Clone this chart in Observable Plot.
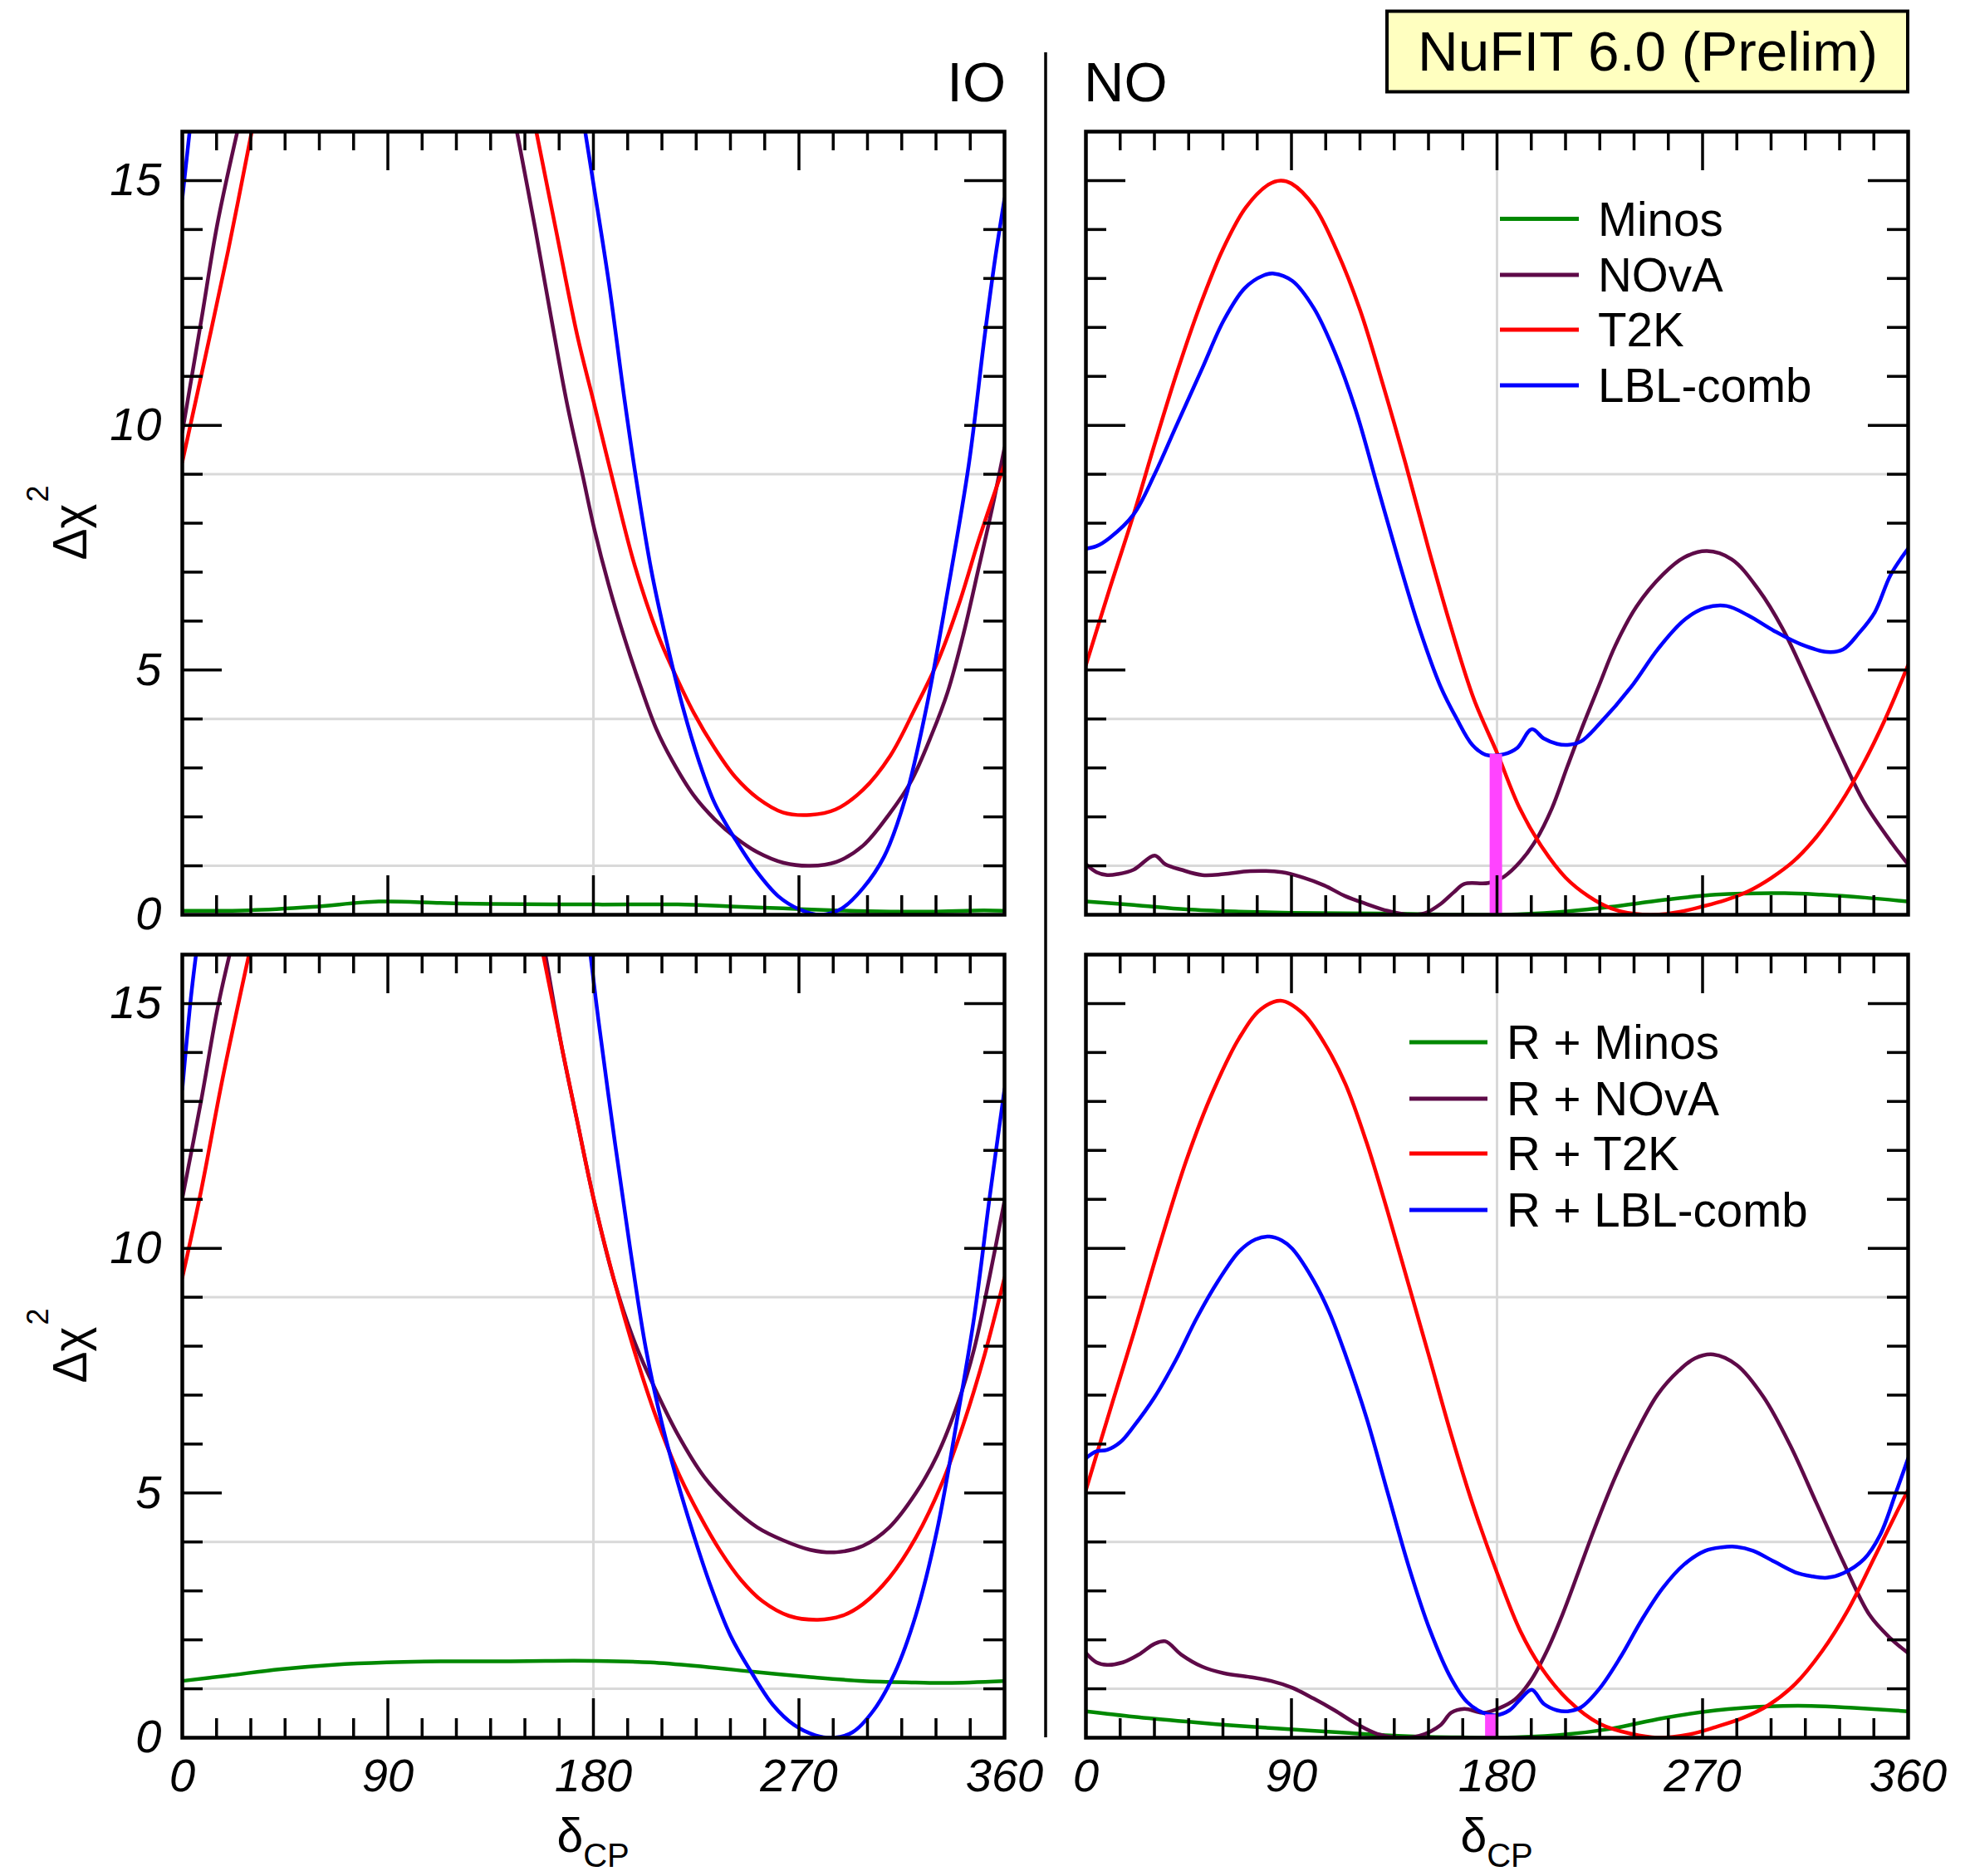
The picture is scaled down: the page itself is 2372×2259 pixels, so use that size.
<!DOCTYPE html>
<html><head><meta charset="utf-8">
<script src="https://cdn.jsdelivr.net/npm/d3@7"></script>
<script src="https://cdn.jsdelivr.net/npm/@observablehq/plot@0.6"></script>
<style>
html,body{margin:0;padding:0;background:#fff;}
#chart{position:relative;width:2372px;height:2259px;background:#fff;overflow:hidden;}
#chart svg{position:absolute;overflow:visible;}
</style></head><body><div id="chart"></div>
<script>
// ---------- axis / tick values ----------
const degMajor = [0, 90, 180, 270, 360];
const degMajorInner = [90, 180, 270];
const degMinor = [15,30,45,60,75,105,120,135,150,165,195,210,225,240,255,285,300,315,330,345];
const dchiMajor = [0, 5, 10, 15];
const dchiMajorInner = [5, 10, 15];
const dchiMinor = [1,2,3,4,6,7,8,9,11,12,13,14];
const gridDchi = [1, 4, 9];
const gridDeg = [180];

// ---------- series names / colours ----------
const namesTop = ["Minos", "NOvA", "T2K", "LBL-comb"];
const namesBottom = ["R + Minos", "R + NOvA", "R + T2K", "R + LBL-comb"];
const seriesColors = ["#008800", "#5e0a48", "#ff0000", "#0000ff"];
const barColor = "#ff44ff";

// ---------- IO, top row ----------
const ioTopMinos = [[0,0.08],[29,0.09],[57,0.16],[86,0.27],[113,0.24],[136,0.22],[182,0.21],[217,0.21],[240,0.17],[263,0.13],[286,0.09],[310,0.065],[328,0.065],[351,0.09],[360,0.08]];
const ioTopNOvA = [[0,9.86],[8.3,12.14],[15.3,14.1],[24.1,16],[null,null],[146.5,16],[154.6,14.0],[161.3,12.25],[168.2,10.5],[175.2,9.0],[180.3,7.9],[186.8,6.72],[193.7,5.64],[200.7,4.66],[207.6,3.79],[214.6,3.14],[223.9,2.44],[233.1,1.95],[242.4,1.57],[251.7,1.28],[263.3,1.06],[274.9,1.0],[286.4,1.08],[298,1.41],[309.6,2.06],[318.9,2.71],[328.2,3.69],[335.1,4.55],[342.1,5.75],[349,7.15],[354.8,8.35],[360,9.54]];
const ioTopT2K = [[0,9.25],[10,11.38],[20,13.55],[30.4,16],[null,null],[155,16],[164,13.9],[173,11.82],[180,10.5],[189,8.78],[198,7.15],[208,5.75],[215,4.99],[224,4.12],[233,3.41],[242,2.82],[252,2.38],[263,2.09],[275,2.04],[286,2.15],[298,2.55],[310,3.25],[321,4.23],[331,5.2],[340,6.34],[349,7.7],[356,8.67],[360,9.2]];
const ioTopLBL = [[0,14.63],[3.2,16],[null,null],[176.4,16],[180.3,14.85],[186.8,12.9],[193.7,10.5],[198.4,9.0],[205.3,7.05],[212.3,5.53],[219.2,4.23],[226.2,3.14],[233.1,2.28],[242.4,1.52],[251.7,0.87],[260.9,0.38],[270.2,0.11],[279.5,0],[288.8,0.13],[298,0.54],[307.3,1.19],[316.6,2.38],[325.8,4.23],[335.1,6.61],[344.4,9.21],[351.3,11.82],[356,13.44],[360,14.63]];

// ---------- IO, bottom row ----------
const ioBotMinos = [[0,1.16],[20,1.27],[43,1.4],[66,1.49],[89.5,1.54],[113,1.56],[136,1.56],[159,1.57],[180,1.57],[205,1.54],[228.5,1.45],[251.7,1.34],[275,1.24],[298,1.16],[321,1.13],[335,1.12],[360,1.16]];
const ioBotNOvA = [[0,11.02],[8.3,13.03],[15.3,14.87],[20.7,16],[null,null],[159,16],[166.2,14.1],[172.9,12.6],[180.3,10.97],[189.1,9.34],[198.4,8.04],[207.6,7.07],[216.9,6.2],[228.5,5.33],[240.1,4.74],[251.7,4.3],[263.3,4.03],[274.9,3.84],[286.4,3.79],[298,3.92],[309.6,4.3],[321.2,5.0],[330.5,5.77],[339.7,6.85],[346.7,7.94],[353.6,9.45],[360,10.97]];
const ioBotT2K = [[0,9.4],[8.3,11.19],[17.6,13.46],[29.2,16],[null,null],[158,16],[166.2,14.1],[172.9,12.6],[180.3,10.97],[189.1,9.34],[198.4,7.83],[207.6,6.53],[216.9,5.44],[226.2,4.57],[235.5,3.82],[244.7,3.22],[254,2.79],[265.6,2.49],[278.3,2.41],[288.8,2.49],[298,2.73],[309.6,3.27],[321.2,4.09],[332.8,5.22],[342.1,6.42],[351.3,7.83],[360,9.4]];
const ioBotLBL = [[0,13.25],[3.7,15.09],[6.0,16],[null,null],[178.7,16],[182.2,14.66],[189.1,12.27],[196.1,9.99],[203,7.94],[210,6.42],[216.9,5.22],[223.9,4.14],[230.8,3.17],[240.1,2.08],[249.4,1.32],[258.6,0.67],[267.9,0.26],[277.2,0.05],[285.3,0],[293.4,0.11],[302.7,0.56],[311.9,1.32],[321.2,2.51],[330.5,4.25],[339.7,6.63],[346.7,8.59],[353.6,11.08],[360,13.25]];

// ---------- NO, top row ----------
const noTopMinos = [[0,0.27],[21,0.2],[44,0.11],[67,0.065],[90,0.04],[114,0.03],[137,0.02],[160,0.0],[183,0.0],[206,0.05],[229.5,0.16],[252.6,0.3],[275.8,0.41],[306,0.44],[322,0.41],[341,0.35],[360,0.27]];
const noTopNOvA = [[0,1.03],[4.6,0.87],[9.3,0.81],[13.9,0.83],[20.9,0.92],[30.1,1.21],[34.8,1.03],[41.7,0.92],[51,0.81],[60.3,0.83],[71.9,0.89],[85.8,0.87],[95,0.76],[104.3,0.6],[113.6,0.38],[122.9,0.22],[132.1,0.08],[141.4,0],[148.4,0.03],[155.3,0.22],[161.1,0.46],[165.7,0.63],[176.2,0.65],[183.1,0.78],[190.1,1.08],[197,1.52],[204,2.17],[210.9,3.04],[217.9,3.9],[224.8,4.7],[231.8,5.5],[241.1,6.3],[252.6,6.95],[261.9,7.3],[271.9,7.43],[282.8,7.26],[294.4,6.65],[305,5.85],[317.6,4.6],[329.2,3.4],[340.7,2.3],[352.3,1.5],[360,1.03]];
const noTopT2K = [[0,5.1],[10,6.6],[20.9,8.18],[30,9.6],[40,11.1],[50,12.45],[60,13.6],[70,14.45],[80,14.92],[85.3,15.0],[90,14.94],[100,14.47],[110,13.55],[120,12.36],[130,10.84],[140,9.21],[150,7.48],[160,5.85],[170,4.39],[180,3.31],[190,2.17],[200,1.36],[210,0.76],[220,0.38],[230,0.13],[240,0.02],[250,0],[260,0.06],[270,0.17],[280,0.3],[290,0.48],[300,0.75],[310,1.1],[320,1.6],[330,2.25],[340,3.05],[350,4.0],[360,5.1]];
const noTopLBL = [[0,7.48],[4.6,7.53],[10.4,7.7],[20.9,8.18],[30.1,9.0],[39.4,9.97],[51,11.17],[60.3,12.14],[69.5,12.8],[77.7,13.06],[82.3,13.1],[90.4,12.95],[99.7,12.4],[108.9,11.5],[118.2,10.3],[127.5,8.78],[136.8,7.26],[146,5.85],[155.3,4.66],[162.3,4.01],[169.2,3.47],[175,3.27],[183.1,3.28],[188.9,3.41],[195.2,3.79],[200.5,3.6],[206.3,3.49],[210.9,3.47],[216.7,3.54],[224.8,3.9],[238.8,4.66],[250.3,5.42],[261.9,6.02],[271.2,6.27],[280.5,6.31],[289.8,6.12],[301.3,5.8],[312.9,5.53],[324.5,5.37],[331.5,5.42],[338.4,5.75],[345.4,6.18],[352.3,6.94],[360,7.48]];
const noTopBar = [179.5, 3.28];

// ---------- NO, bottom row ----------
const noBotMinos = [[0,0.54],[20.9,0.43],[44,0.33],[67.2,0.24],[90.4,0.17],[113.6,0.1],[136.8,0.04],[159.9,0.01],[180.8,0],[206.3,0.05],[229.5,0.18],[252.6,0.4],[275.8,0.56],[299,0.64],[317.6,0.65],[336.1,0.61],[360,0.54]];
const noBotNOvA = [[0,1.73],[4.6,1.54],[9.3,1.49],[16.2,1.54],[23.2,1.7],[30.1,1.92],[34.8,1.97],[41.7,1.7],[51,1.45],[60.3,1.32],[71.9,1.24],[81.1,1.16],[90.4,1.02],[99.7,0.8],[108.9,0.56],[118.2,0.29],[127.5,0.08],[136.8,0],[146,0.04],[155.3,0.26],[159.9,0.51],[165.7,0.59],[173.9,0.51],[180.8,0.6],[187.8,0.78],[194.7,1.16],[201.7,1.76],[208.6,2.51],[215.6,3.38],[222.5,4.25],[231.8,5.33],[241.1,6.25],[250.3,7.01],[259.6,7.5],[266.6,7.75],[274.7,7.83],[285.1,7.61],[296.7,6.96],[308.3,5.98],[319.9,4.79],[331.5,3.6],[343.1,2.51],[352.3,2.03],[360,1.73]];
const noBotT2K = [[0,5.06],[11.6,6.85],[20.9,8.26],[32.5,10.1],[44,11.8],[55.6,13.2],[67.2,14.3],[76.5,14.88],[85.3,15.06],[95,14.8],[104.3,14.2],[113.6,13.36],[122.9,12.16],[132.1,10.75],[141.4,9.24],[150.7,7.72],[159.9,6.2],[169.2,4.79],[180.8,3.27],[190.1,2.19],[199.4,1.43],[210.9,0.78],[224.8,0.29],[238.8,0.08],[250.3,0],[264.3,0.07],[275.8,0.22],[287.4,0.4],[299,0.67],[310.6,1.1],[322.2,1.76],[333.8,2.62],[345.4,3.7],[354.6,4.57],[360,5.06]];
const noBotLBL = [[0,5.71],[4.6,5.85],[9.3,5.88],[15.1,6.04],[20.9,6.36],[30.1,6.96],[39.4,7.72],[48.7,8.59],[58,9.34],[67.2,9.94],[74.2,10.18],[80.4,10.24],[85.8,10.16],[90.4,9.99],[99.7,9.34],[106.6,8.69],[113.6,7.83],[122.9,6.53],[132.1,5.01],[141.4,3.49],[150.7,2.19],[159.9,1.21],[166.9,0.73],[173.9,0.51],[179.6,0.46],[185.4,0.56],[190.1,0.78],[195.2,0.98],[200.5,0.69],[206.3,0.56],[210.9,0.54],[216.7,0.62],[224.8,1.0],[234.1,1.65],[243.4,2.41],[252.6,3.06],[261.9,3.54],[271.2,3.82],[278.2,3.89],[285.1,3.9],[292.1,3.82],[301.3,3.6],[310.6,3.38],[317.6,3.3],[324.5,3.27],[331.5,3.36],[340.7,3.65],[347.7,4.14],[354.6,5.0],[360,5.71]];
const noBotBar = [177.5, 0.47];

// ---------- layout ----------
const FONT = '"Liberation Sans", Arial, Helvetica, sans-serif';
const chart = document.getElementById("chart");
const W = 990, H = 943, mL = 130, mR = 40, mT = 30, mB = 110;

function panel(series, bar, yLabels, xLabels, frameLeft, frameTop) {
  const tk = {stroke: "black", strokeWidth: 3.5};
  const marks = [
    Plot.ruleY(gridDchi, {y: d => d, stroke: "#d9d9d9", strokeWidth: 3}),
    Plot.ruleX(gridDeg, {x: d => d, stroke: "#d9d9d9", strokeWidth: 3})
  ];
  series.forEach((s, i) => marks.push(
    Plot.line(s, {x: d => d[0], y: d => d[1], stroke: seriesColors[i], strokeWidth: 4.5,
                  curve: "catmull-rom", clip: true, strokeLinejoin: "round"})));
  if (bar) marks.push(Plot.ruleX([bar], {x: d => d[0], y1: 0, y2: d => d[1], stroke: barColor, strokeWidth: 15}));
  marks.push(
    Plot.tickX(degMinor, {x: d => d, insetTop: H - 23, ...tk}),
    Plot.tickX(degMinor, {x: d => d, insetBottom: H - 23, ...tk}),
    Plot.tickX(degMajorInner, {x: d => d, insetTop: H - 47, ...tk}),
    Plot.tickX(degMajorInner, {x: d => d, insetBottom: H - 47, ...tk}),
    Plot.tickY(dchiMinor, {y: d => d, insetRight: W - 25, ...tk}),
    Plot.tickY(dchiMinor, {y: d => d, insetLeft: W - 25, ...tk}),
    Plot.tickY(dchiMajorInner, {y: d => d, insetRight: W - 48, ...tk}),
    Plot.tickY(dchiMajorInner, {y: d => d, insetLeft: W - 48, ...tk}),
    Plot.frame({stroke: "black", strokeWidth: 4.5})
  );
  if (yLabels) marks.push(Plot.axisY({anchor: "left", ticks: dchiMajor, tickSize: 0, tickPadding: 25,
    fontSize: 56, fontStyle: "italic", label: null, tickFormat: d => String(d)}));
  if (xLabels) marks.push(Plot.axisX({anchor: "bottom", ticks: degMajor, tickSize: 0, tickPadding: 25,
    fontSize: 56, fontStyle: "italic", label: null, tickFormat: d => String(d)}));
  const svg = Plot.plot({
    width: W + mL + mR, height: H + mT + mB,
    marginLeft: mL, marginRight: mR, marginTop: mT, marginBottom: mB,
    x: {domain: [0, 360], axis: null},
    y: {domain: [0, 16], axis: null},
    style: {background: "none", fontFamily: FONT, fontStyle: "italic", overflow: "visible"},
    marks
  });
  svg.style.position = "absolute";
  svg.style.left = (frameLeft - mL) + "px";
  svg.style.top = (frameTop - mT) + "px";
  chart.appendChild(svg);
}

const colL = 218.5, colR = 1306.5, rowT = 158, rowB = 1149;
panel([ioTopMinos, ioTopNOvA, ioTopT2K, ioTopLBL], null, true, false, colL, rowT);
panel([noTopMinos, noTopNOvA, noTopT2K, noTopLBL], noTopBar, false, false, colR, rowT);
panel([ioBotMinos, ioBotNOvA, ioBotT2K, ioBotLBL], null, true, true, colL, rowB);
panel([noBotMinos, noBotNOvA, noBotT2K, noBotLBL], noBotBar, false, true, colR, rowB);

// ---------- annotations ----------
const ann = d3.select("#chart").append("svg")
  .attr("width", 2372).attr("height", 2259)
  .style("left", "0px").style("top", "0px")
  .attr("font-family", FONT);

ann.append("line").attr("x1", 1259).attr("x2", 1259).attr("y1", 63).attr("y2", 2092)
  .attr("stroke", "black").attr("stroke-width", 3.5);

ann.append("text").attr("x", 1211).attr("y", 122).attr("text-anchor", "end")
  .attr("font-size", 67).text("IO");
ann.append("text").attr("x", 1305).attr("y", 122).attr("text-anchor", "start")
  .attr("font-size", 67).text("NO");

ann.append("rect").attr("x", 1670).attr("y", 13.5).attr("width", 627).attr("height", 97)
  .attr("fill", "#ffffc0").attr("stroke", "black").attr("stroke-width", 4);
ann.append("text").attr("x", 1984).attr("y", 85).attr("text-anchor", "middle")
  .attr("font-size", 67.5).text("NuFIT 6.0 (Prelim)");

// y-axis labels  Δχ²
[rowT, rowB].forEach(r => {
  const cy = r + H / 2;
  const t = ann.append("text").attr("transform", `translate(104,${cy + 45}) rotate(-90)`)
    .attr("font-size", 57).attr("text-anchor", "start");
  t.append("tspan").text("Δχ");
  t.append("tspan").attr("font-size", 36).attr("dy", -46).attr("dx", 2).text("2");
});

// x-axis labels  δCP
[colL, colR].forEach(c => {
  const x0 = c + W / 2 - 43;
  const t = ann.append("text").attr("x", x0).attr("y", 2230).attr("font-size", 57);
  t.append("tspan").text("δ");
  t.append("tspan").attr("font-size", 40).attr("dy", 18).text("CP");
});

// legends
function legend(names, lineX1, lineX2, textX, rowY) {
  names.forEach((n, i) => {
    const y = rowY[i];
    ann.append("line").attr("x1", lineX1).attr("x2", lineX2).attr("y1", y).attr("y2", y)
      .attr("stroke", seriesColors[i]).attr("stroke-width", 5);
    ann.append("text").attr("x", textX).attr("y", y + 20).attr("font-size", 56.5).text(n);
  });
}
legend(namesTop, 1806, 1901, 1924, [263.5, 331, 397, 464]);
legend(namesBottom, 1697, 1791, 1814, [1255, 1323, 1389, 1457]);
</script></body></html>
